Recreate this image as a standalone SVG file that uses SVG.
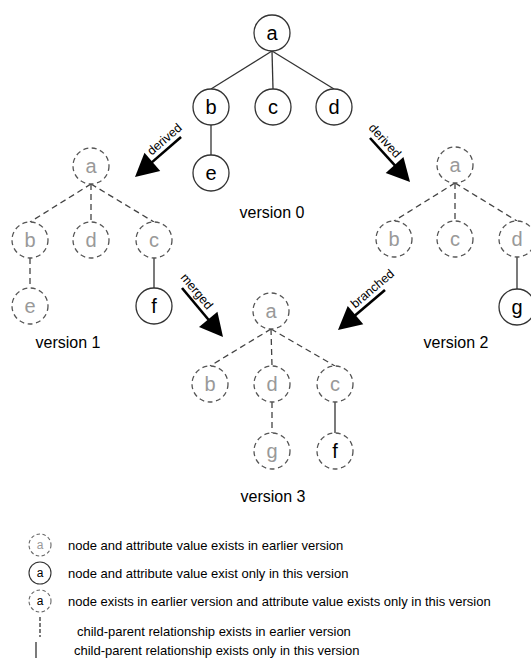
<svg xmlns="http://www.w3.org/2000/svg" width="531" height="668" viewBox="0 0 531 668">
<style>
  .n circle { fill:#fff; stroke:#333; stroke-width:1.3; }
  .n.old circle { stroke:#555; stroke-dasharray:5 3.5; }
  .n text { font-family:"Liberation Sans", Arial, sans-serif; font-size:20px; text-anchor:middle; }
  .g { fill:#999; }
  .k { fill:#000; }
  .e { stroke:#333; stroke-width:1.3; fill:none; }
  .d { stroke:#444; stroke-dasharray:6 4; }
  .arr line { stroke:#000; stroke-width:2.6; }
  .arr polygon { fill:#000; }
  .arr text { font-family:"Liberation Sans", Arial, sans-serif; font-size:12.5px; text-anchor:middle; fill:#000; }
  .lab { font-family:"Liberation Sans", Arial, sans-serif; font-size:16px; text-anchor:middle; fill:#000; }
  .leg { font-family:"Liberation Sans", Arial, sans-serif; font-size:13px; fill:#000; }
  .lg circle { fill:#fff; stroke:#333; stroke-width:1.1; }
  .lg.old circle { stroke:#666; stroke-dasharray:3.5 2.5; }
  .lg text { font-family:"Liberation Sans", Arial, sans-serif; font-size:12px; text-anchor:middle; }
</style>
<rect width="531" height="668" fill="#fff"/>

<g id="connectors">
  <!-- version 0 -->
  <line class="e" x1="272" y1="51" x2="211" y2="89"/>
  <line class="e" x1="272" y1="51" x2="273" y2="89"/>
  <line class="e" x1="272" y1="51" x2="334" y2="89"/>
  <line class="e" x1="211" y1="125" x2="211" y2="155"/>
  <!-- version 1 -->
  <line class="e d" x1="91" y1="184" x2="30" y2="222"/>
  <line class="e d" x1="91" y1="184" x2="91" y2="222"/>
  <line class="e d" x1="91" y1="184" x2="154" y2="222"/>
  <line class="e d" x1="30" y1="258" x2="30" y2="288"/>
  <line class="e" x1="154" y1="258" x2="154" y2="288"/>
  <!-- version 2 -->
  <line class="e d" x1="455" y1="183" x2="394" y2="221"/>
  <line class="e d" x1="455" y1="183" x2="455" y2="221"/>
  <line class="e d" x1="455" y1="183" x2="517" y2="221"/>
  <line class="e" x1="517" y1="257" x2="517" y2="289"/>
  <!-- version 3 -->
  <line class="e d" x1="271" y1="329" x2="210" y2="366"/>
  <line class="e d" x1="271" y1="329" x2="272" y2="366"/>
  <line class="e d" x1="271" y1="329" x2="335" y2="366"/>
  <line class="e d" x1="272" y1="402" x2="272" y2="433"/>
  <line class="e" x1="335" y1="402" x2="335" y2="433"/>

  <!-- version arrows -->
  <g class="arr" id="arrow-derived-1" transform="translate(135,177) rotate(-41)">
    <line x1="20" y1="0" x2="61" y2="0"/>
    <polygon points="0,0 23,-12 23,12"/>
    <text x="47" y="-5">derived</text>
  </g>
  <g class="arr" id="arrow-derived-2" transform="translate(370,138) rotate(47.7)">
    <line x1="0" y1="0" x2="40" y2="0"/>
    <polygon points="59.5,0 36.5,-12 36.5,12"/>
    <text x="12" y="-5">derived</text>
  </g>
  <g class="arr" id="arrow-merged" transform="translate(182,288) rotate(50.1)">
    <line x1="0" y1="0" x2="44" y2="0"/>
    <polygon points="63.9,0 40.9,-12 40.9,12"/>
    <text x="12" y="-5">merged</text>
  </g>
  <g class="arr" id="arrow-branched" transform="translate(338,330) rotate(-40.4)">
    <line x1="20" y1="0" x2="61.7" y2="0"/>
    <polygon points="0,0 23,-12 23,12"/>
    <text x="53" y="-5">branched</text>
  </g>
</g>

<!-- version 0 nodes -->
<g id="v0-a" class="n"><circle cx="272" cy="33" r="18"/><text class="k" x="272" y="40">a</text></g>
<g id="v0-b" class="n"><circle cx="211" cy="107" r="18"/><text class="k" x="211" y="114">b</text></g>
<g id="v0-c" class="n"><circle cx="273" cy="107" r="18"/><text class="k" x="273" y="114">c</text></g>
<g id="v0-d" class="n"><circle cx="334" cy="107" r="18"/><text class="k" x="334" y="114">d</text></g>
<g id="v0-e" class="n"><circle cx="211" cy="173" r="18"/><text class="k" x="211" y="180">e</text></g>
<text class="lab" x="272" y="218">version 0</text>

<!-- version 1 nodes -->
<g id="v1-a" class="n old"><circle cx="91" cy="166" r="18"/><text class="g" x="91" y="173">a</text></g>
<g id="v1-b" class="n old"><circle cx="30" cy="240" r="18"/><text class="g" x="30" y="247">b</text></g>
<g id="v1-d" class="n old"><circle cx="91" cy="240" r="18"/><text class="g" x="91" y="247">d</text></g>
<g id="v1-c" class="n old"><circle cx="154" cy="240" r="18"/><text class="g" x="154" y="247">c</text></g>
<g id="v1-e" class="n old"><circle cx="30" cy="306" r="18"/><text class="g" x="30" y="313">e</text></g>
<g id="v1-f" class="n"><circle cx="154" cy="306" r="18"/><text class="k" x="154" y="313">f</text></g>
<text class="lab" x="68" y="348">version 1</text>

<!-- version 2 nodes -->
<g id="v2-a" class="n old"><circle cx="455" cy="165" r="18"/><text class="g" x="455" y="172">a</text></g>
<g id="v2-b" class="n old"><circle cx="394" cy="239" r="18"/><text class="g" x="394" y="246">b</text></g>
<g id="v2-c" class="n old"><circle cx="455" cy="239" r="18"/><text class="g" x="455" y="246">c</text></g>
<g id="v2-d" class="n old"><circle cx="517" cy="239" r="18"/><text class="g" x="517" y="246">d</text></g>
<g id="v2-g" class="n"><circle cx="517" cy="307" r="18"/><text class="k" x="517" y="314">g</text></g>
<text class="lab" x="456" y="348">version 2</text>

<!-- version 3 nodes -->
<g id="v3-a" class="n old"><circle cx="271" cy="311" r="18"/><text class="g" x="271" y="318">a</text></g>
<g id="v3-b" class="n old"><circle cx="210" cy="384" r="18"/><text class="g" x="210" y="391">b</text></g>
<g id="v3-d" class="n old"><circle cx="272" cy="384" r="18"/><text class="g" x="272" y="391">d</text></g>
<g id="v3-c" class="n old"><circle cx="335" cy="384" r="18"/><text class="g" x="335" y="391">c</text></g>
<g id="v3-g" class="n old"><circle cx="272" cy="451" r="18"/><text class="g" x="272" y="458">g</text></g>
<g id="v3-f" class="n old"><circle cx="335" cy="451" r="18"/><text class="k" x="335" y="458">f</text></g>
<text class="lab" x="273" y="502">version 3</text>

<!-- legend -->
<g id="legend">
  <g id="leg-1" class="lg old"><circle cx="40" cy="545" r="11"/><text class="g" x="40" y="549">a</text></g>
  <text class="leg" x="68" y="549.5">node and attribute value exists in earlier version</text>
  <g id="leg-2" class="lg"><circle cx="40" cy="573" r="11"/><text class="k" x="40" y="577">a</text></g>
  <text class="leg" x="68" y="577.5">node and attribute value exist only in this version</text>
  <g id="leg-3" class="lg old"><circle cx="40" cy="601" r="11"/><text class="k" x="40" y="605">a</text></g>
  <text class="leg" x="68" y="605.5">node exists in earlier version and attribute value exists only in this version</text>
  <line class="e" x1="40" y1="617" x2="40" y2="637" stroke-dasharray="4 2" stroke="#555"/>
  <text class="leg" x="77" y="636">child-parent relationship exists in earlier version</text>
  <line class="e" x1="36" y1="642" x2="36" y2="658"/>
  <text class="leg" x="74" y="655">child-parent relationship exists only in this version</text>
</g>
</svg>
